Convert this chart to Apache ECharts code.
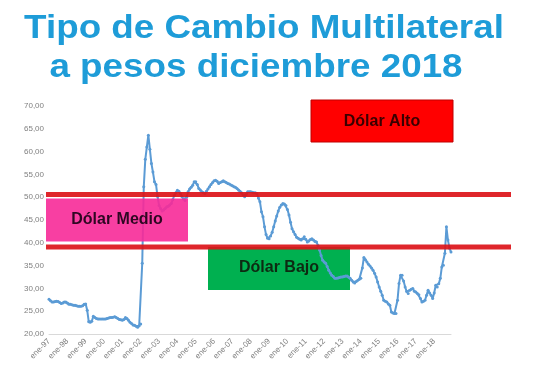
<!DOCTYPE html>
<html>
<head>
<meta charset="utf-8">
<script src="https://cdn.jsdelivr.net/npm/echarts@6/dist/echarts.min.js"></script>
<style>
html,body{margin:0;padding:0;background:#fff;}
#chart{width:535px;height:380px;}
</style>
</head>
<body>
<div id="chart"></div>
<script>
// ---- data ----
const titleLines = ['Tipo de Cambio Multilateral', 'a pesos diciembre 2018'];
const monthNames = ['ene','feb','mar','abr','may','jun','jul','ago','sep','oct','nov','dic'];
const yearLabels = ['97','98','99','00','01','02','03','04','05','06','07','08','09','10','11','12','13','14','15','16','17','18'];
const yTicks = [20, 70, 5]; // min, max, step

const v1997 = [27.6, 27.3, 27.0, 27.0, 27.1, 27.2, 27.1, 26.9, 26.7, 26.8, 27.0, 27.0];
const v1998 = [26.8, 26.5, 26.5, 26.4, 26.3, 26.3, 26.2, 26.1, 26.1, 26.1, 26.2, 26.5];
const v1999 = [26.6, 25.2, 22.7, 22.6, 22.8, 23.9, 23.6, 23.4, 23.3, 23.3, 23.3, 23.3];
const v2000 = [23.3, 23.3, 23.4, 23.5, 23.6, 23.6, 23.7, 23.8, 23.6, 23.4, 23.2, 23.1];
const v2001 = [23.0, 23.2, 23.6, 23.4, 23.0, 22.6, 22.3, 22.0, 21.9, 21.7, 21.5, 21.8];
const v2002 = [22.2, 35.5, 52.3, 58.3, 61.0, 63.6, 60.5, 57.4, 55.5, 53.4, 52.8, 50.2];
const v2003 = [48.2, 47.5, 47.0, 47.2, 47.5, 47.9, 48.0, 48.3, 48.6, 49.5, 50.4, 51.0];
const v2004 = [51.5, 51.3, 50.8, 50.1, 49.6, 49.3, 50.0, 51.2, 51.8, 52.2, 52.6, 53.4];
const v2005 = [53.4, 52.8, 51.9, 51.6, 51.2, 51.0, 50.8, 51.3, 51.8, 52.3, 52.8, 53.2];
const v2006 = [53.6, 53.7, 53.5, 53.0, 53.2, 53.4, 53.6, 53.4, 53.2, 53.0, 52.9, 52.7];
const v2007 = [52.5, 52.3, 52.2, 51.9, 51.6, 51.3, 51.0, 50.5, 50.1, 50.6, 51.2, 51.2];
const v2008 = [51.2, 51.1, 51.0, 51.0, 50.8, 49.8, 49.0, 46.8, 45.7, 43.5, 41.8, 41.0];
const v2009 = [40.9, 41.5, 42.3, 43.5, 44.8, 45.9, 47.0, 47.8, 48.3, 48.6, 48.5, 48.2];
const v2010 = [47.3, 46.1, 44.5, 43.1, 42.4, 41.8, 41.2, 41.0, 40.8, 40.6, 40.9, 41.3];
const v2011 = [40.8, 40.2, 40.4, 40.7, 40.9, 40.6, 40.3, 40.2, 39.4, 38.4, 37.2, 36.2];
const v2012 = [35.8, 35.5, 34.8, 34.0, 33.4, 32.9, 32.6, 32.2, 32.2, 32.3, 32.4, 32.5];
const v2013 = [32.5, 32.6, 32.7, 32.7, 32.5, 32.2, 31.8, 31.4, 31.2, 31.5, 31.8, 32.0];
const v2014 = [32.2, 34.5, 36.8, 36.3, 35.8, 35.3, 34.9, 34.5, 34.0, 33.3, 32.5, 31.4];
const v2015 = [30.3, 29.4, 28.5, 27.4, 27.2, 27.0, 26.6, 26.3, 24.8, 24.6, 24.5, 24.5];
const v2016 = [27.4, 31.1, 32.9, 32.9, 31.6, 30.3, 29.3, 28.9, 29.6, 29.8, 30.0, 29.4];
const v2017 = [29.2, 28.9, 28.6, 27.8, 27.0, 27.2, 27.4, 28.5, 29.6, 29.0, 28.5, 27.8];
const v2018 = [29.0, 30.7, 30.3, 31.0, 32.2, 34.7, 35.1, 37.7, 43.5, 40.6, 38.8, 38.0];

const bandValues = [50.6, 39.1];            // red threshold bands
const boxLabels = ['Dólar Alto', 'Dólar Medio', 'Dólar Bajo'];

// ---- build ----
const categories = [];
yearLabels.forEach(y => monthNames.forEach(m => categories.push(m + '-' + y)));
const values = [].concat(v1997, v1998, v1999, v2000, v2001, v2002, v2003, v2004, v2005, v2006, v2007,
  v2008, v2009, v2010, v2011, v2012, v2013, v2014, v2015, v2016, v2017, v2018);

const chart = echarts.init(document.getElementById('chart'), null, {renderer: 'canvas'});
const FONT = '"Liberation Sans", Arial, sans-serif';

chart.setOption({
  animation: false,
  backgroundColor: '#ffffff',
  grid: {left: 49, right: 84, top: 106, bottom: 46, containLabel: false},
  xAxis: {
    type: 'category',
    data: categories,
    boundaryGap: false,
    axisLine: {show: true, lineStyle: {color: '#d9d9d9', width: 1}},
    axisTick: {show: false},
    axisLabel: {
      interval: 11, rotate: 45, margin: 6,
      color: '#7f7f7f', fontSize: 8, fontFamily: FONT
    },
    splitLine: {show: false}
  },
  yAxis: {
    type: 'value',
    min: yTicks[0], max: yTicks[1], interval: yTicks[2],
    axisLine: {show: false},
    axisTick: {show: false},
    splitLine: {show: false},
    axisLabel: {
      margin: 5, color: '#7f7f7f', fontSize: 8, fontFamily: FONT,
      formatter: v => v.toFixed(2).replace('.', ',')
    }
  },
  series: [{
    type: 'line',
    data: values,
    z: 5,
    showAllSymbol: true,
    symbol: 'circle',
    symbolSize: 3,
    lineStyle: {color: '#5B9BD5', width: 2},
    itemStyle: {color: '#5B9BD5'}
  }]
});

const yHi = chart.convertToPixel({yAxisIndex: 0}, bandValues[0]);
const yLo = chart.convertToPixel({yAxisIndex: 0}, bandValues[1]);

function boxText(label, cx, cy, color) {
  return {
    type: 'text', x: cx, y: cy, z: 30,
    style: {text: label, fill: color, font: 'bold 16px ' + FONT, textAlign: 'center', textVerticalAlign: 'middle'}
  };
}

chart.setOption({
  graphic: [
    // title
    {type: 'text', x: 264, y: 28.5, scaleX: 1.115, z: 40,
     style: {text: titleLines[0], fill: '#1E9CD8', font: 'bold 33px ' + FONT, textAlign: 'center', textVerticalAlign: 'middle'}},
    {type: 'text', x: 256, y: 67.5, scaleX: 1.115, z: 40,
     style: {text: titleLines[1], fill: '#1E9CD8', font: 'bold 33px ' + FONT, textAlign: 'center', textVerticalAlign: 'middle'}},
    // green box (under the line)
    {type: 'rect', z: 1, shape: {x: 208, y: yLo, width: 142, height: 43}, style: {fill: '#00B050'}},
    boxText(boxLabels[2], 279, 268, '#0d2a12'),
    // red bands
    {type: 'rect', z: 20, shape: {x: 46, y: yHi - 2.5, width: 465, height: 5}, style: {fill: '#DC1419', opacity: 0.92}},
    {type: 'rect', z: 20, shape: {x: 46, y: yLo - 2.5, width: 465, height: 5}, style: {fill: '#DC1419', opacity: 0.92}},
    // pink box
    {type: 'rect', z: 20, shape: {x: 46, y: yHi + 4, width: 142, height: 43}, style: {fill: '#F72A98', opacity: 0.9}},
    boxText(boxLabels[1], 117, 220, '#2e0722'),
    // red box
    {type: 'rect', z: 20, shape: {x: 311, y: 100, width: 142, height: 42}, style: {fill: '#FF0000', stroke: '#C00000', lineWidth: 1}},
    boxText(boxLabels[0], 382, 122, '#3a0000')
  ]
});
</script>
</body>
</html>
